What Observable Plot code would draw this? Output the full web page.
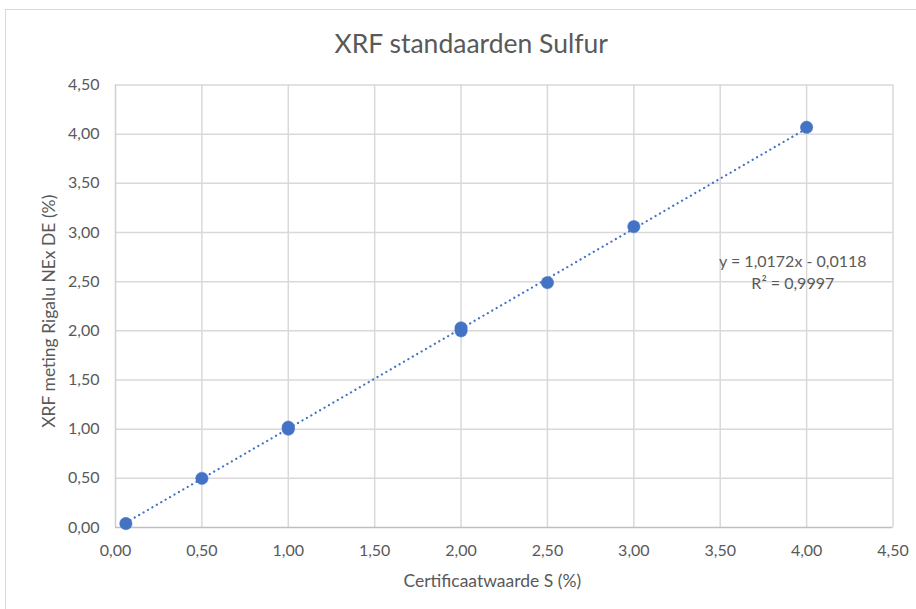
<!DOCTYPE html>
<html>
<head>
<meta charset="utf-8">
<script src="https://cdn.jsdelivr.net/npm/d3@7"></script>
<script src="https://cdn.jsdelivr.net/npm/@observablehq/plot@0.6"></script>
<style>
  html, body { margin: 0; padding: 0; background: #fff; }
  #wrap { position: relative; width: 916px; height: 609px; overflow: hidden; background: #fff; }
  #frame { position: absolute; left: 5px; top: 9px; width: 1000px; height: 700px;
           border: 1.5px solid #d9d9d9; box-sizing: border-box; }
  #chart { position: absolute; left: 0; top: 0; }
</style>
</head>
<body>
<div id="wrap">
  <div id="frame"></div>
  <div id="chart"></div>
</div>
<script>
// Certified sulfur content of the standards vs. XRF reading (Rigaku NEX DE)
const certified = [0.06, 0.50, 1.00, 1.00, 2.00, 2.00, 2.50, 3.00, 4.00];
const measured  = [0.04, 0.50, 1.00, 1.02, 2.00, 2.03, 2.49, 3.06, 4.07];

// Linear trendline as reported on the chart
const slope = 1.0172;
const intercept = -0.0118;
const rSquared = 0.9997;

const xTicks = [0, 0.5, 1, 1.5, 2, 2.5, 3, 3.5, 4, 4.5];
const yTicks = [0, 0.5, 1, 1.5, 2, 2.5, 3, 3.5, 4, 4.5];

const title = "XRF standaarden Sulfur";
const xLabel = "Certificaatwaarde S (%)";
const yLabel = "XRF meting Rigalu NEx DE (%)";

const points = certified.map((c, i) => ({x: c, y: measured[i]}));
const xMin = d3.min(certified), xMax = d3.max(certified);
const trend = [xMin, xMax].map(x => ({x, y: slope * x + intercept}));

const comma = d => d.toFixed(2).replace(".", ",");
const fmt4 = d => d.toFixed(4).replace(".", ",");
const eqLine1 = `y = ${fmt4(slope)}x - ${fmt4(Math.abs(intercept))}`;
const eqLine2 = `R² = ${fmt4(rSquared)}`;

const font = "Lato, 'Open Sans', sans-serif";
const grey = "#595959";
const blue = "#4472C4";

const chart = Plot.plot({
  width: 916,
  height: 609,
  marginLeft: 115,
  marginRight: 23.5,
  marginTop: 84.5,
  marginBottom: 82,
  style: {fontFamily: font, background: "transparent", color: grey},
  x: {domain: [0, 4.5]},
  y: {domain: [0, 4.5]},
  marks: [
    Plot.gridX(xTicks.filter(t => t > 0), {stroke: "#d9d9d9", strokeOpacity: 1, strokeWidth: 1.5}),
    Plot.gridY(yTicks.filter(t => t > 0), {stroke: "#d9d9d9", strokeOpacity: 1, strokeWidth: 1.5}),
    Plot.ruleX([0], {stroke: "#d0d0d0", strokeWidth: 1.5}),
    Plot.ruleY([0], {stroke: "#bfbfbf", strokeWidth: 1.5}),
    Plot.axisX({ticks: xTicks, tickSize: 0, tickPadding: 17, tickFormat: comma,
                fontSize: 16, fill: grey, label: null}),
    Plot.axisY({ticks: yTicks, tickSize: 0, tickPadding: 16, tickFormat: comma,
                fontSize: 16, fill: grey, label: null}),
    Plot.line(trend, {x: "x", y: "y", stroke: blue, strokeWidth: 2.2,
                      strokeDasharray: "0.1 5", strokeLinecap: "round"}),
    Plot.dot(points, {x: "x", y: "y", r: 6.2, fill: blue, stroke: blue, strokeWidth: 0.5}),
    Plot.text([eqLine1], {x: 3.92, y: 2.70, text: d => d, fontSize: 16, fill: grey,
                          textAnchor: "middle"}),
    Plot.text([eqLine2], {x: 3.92, y: 2.48, text: d => d, fontSize: 16, fill: grey,
                          textAnchor: "middle"}),
    Plot.text([title], {frameAnchor: "top", dx: -33, dy: -40, text: d => d,
                        fontSize: 26.5, fill: grey, lineAnchor: "middle"}),
    Plot.text([xLabel], {frameAnchor: "bottom", dx: -12, dy: 54, text: d => d,
                         fontSize: 17.5, fill: grey, lineAnchor: "middle"}),
    Plot.text([yLabel], {frameAnchor: "left", dx: -66, dy: 5, rotate: -90, text: d => d,
                         textAnchor: "middle", fontSize: 17.5, fill: grey, lineAnchor: "middle"})
  ]
});

document.getElementById("chart").appendChild(chart);
</script>
</body>
</html>
